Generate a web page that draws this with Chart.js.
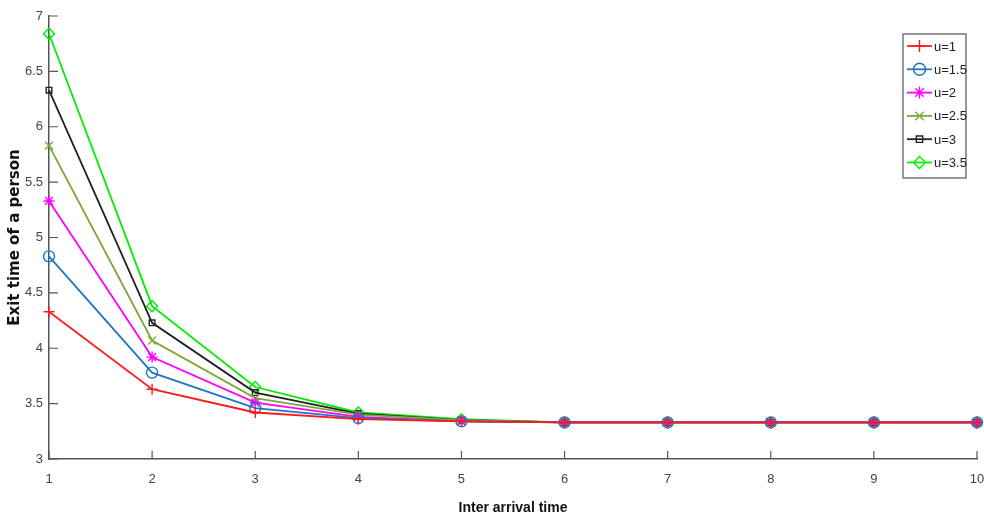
<!DOCTYPE html>
<html><head><meta charset="utf-8">
<script src="https://cdn.jsdelivr.net/npm/chart.js@4.4.1/dist/chart.umd.min.js"></script>
<style>html,body{margin:0;padding:0;background:#fff}#wrap{width:984px;height:521px}</style>
</head><body><div id="wrap"><canvas id="c" width="984" height="521"></canvas></div>
<script>
const interArrival = [1,2,3,4,5,6,7,8,9,10];
const u1   = [4.33,3.63,3.42,3.36,3.34,3.33,3.33,3.33,3.33,3.33];
const u15  = [4.83,3.78,3.46,3.37,3.34,3.33,3.33,3.33,3.33,3.33];
const u2   = [5.33,3.92,3.51,3.38,3.34,3.33,3.33,3.33,3.33,3.33];
const u25  = [5.83,4.07,3.55,3.40,3.35,3.33,3.33,3.33,3.33,3.33];
const u3   = [6.33,4.23,3.60,3.41,3.35,3.33,3.33,3.33,3.33,3.33];
const u35  = [6.84,4.38,3.65,3.42,3.36,3.33,3.33,3.33,3.33,3.33];
const seriesNames = ['u=1','u=1.5','u=2','u=2.5','u=3','u=3.5'];
const seriesData = [u1,u15,u2,u25,u3,u35];
const colors = ['#ff1a1a','#1f77c4','#ff00ff','#7aa83a','#222222','#00ee00'];
const markers = ['cross','circle','star','crossRot','rect','rectRot'];
const FONT = '"Liberation Sans Narrow","Liberation Sans",Arial,sans-serif';

const datasets = seriesNames.map((n,i)=>({
  label:n,
  data: interArrival.map((x,j)=>({x:x,y:seriesData[i][j]})),
  borderColor:colors[i], backgroundColor:'rgba(0,0,0,0)',
  borderWidth:1.8, pointStyle:markers[i], pointRadius: markers[i]==='rect'?4:5.5,
  pointBorderColor:colors[i], pointBackgroundColor:'rgba(0,0,0,0)', pointBorderWidth:1.4,
  tension:0, clip:false
}));

const inwardTicks = {
  id:'inwardTicks',
  afterDraw(chart){
    const ctx=chart.ctx, a=chart.chartArea, xs=chart.scales.x, ys=chart.scales.y;
    ctx.save(); ctx.strokeStyle='#555'; ctx.lineWidth=1.2;
    ctx.beginPath();
    xs.ticks.forEach(t=>{const p=xs.getPixelForValue(t.value); ctx.moveTo(p,a.bottom); ctx.lineTo(p,a.bottom-8);});
    ys.ticks.forEach(t=>{const p=ys.getPixelForValue(t.value); ctx.moveTo(a.left,p); ctx.lineTo(a.left+9,p);});
    ctx.stroke(); ctx.restore();
  }
};

const boxLegend = {
  id:'boxLegend',
  afterDraw(chart){
    const ctx=chart.ctx, a=chart.chartArea;
    const w=63, h=144, x0=a.right-74, y0=a.top+18;
    ctx.save();
    ctx.fillStyle='#fff'; ctx.fillRect(x0,y0,w,h);
    ctx.strokeStyle='#777'; ctx.lineWidth=1.5; ctx.strokeRect(x0,y0,w,h);
    ctx.font='13px '+FONT; ctx.textBaseline='middle';
    chart.data.datasets.forEach((ds,i)=>{
      const y=y0+12+i*23.3;
      ctx.strokeStyle=ds.borderColor; ctx.lineWidth=1.8;
      ctx.beginPath(); ctx.moveTo(x0+4,y); ctx.lineTo(x0+29,y); ctx.stroke();
      ctx.strokeStyle=ds.borderColor; ctx.fillStyle='rgba(0,0,0,0)'; ctx.lineWidth=1.4;
      Chart.helpers.drawPoint(ctx,{pointStyle:ds.pointStyle,radius:ds.pointRadius+0.5,borderWidth:1.4,rotation:0},x0+16.5,y);
      ctx.fillStyle='#222'; ctx.fillText(ds.label,x0+31,y+1);
    });
    ctx.restore();
  }
};

new Chart(document.getElementById('c'),{
  type:'line',
  data:{datasets},
  options:{
    responsive:false, animation:false,
    layout:{padding:{top:16,right:7,left:0,bottom:0}},
    plugins:{legend:{display:false},tooltip:{enabled:false}},
    scales:{
      x:{type:'linear',min:1,max:10,
        afterFit(s){s.height=62; s.paddingLeft=0; s.paddingRight=0;},
        grid:{display:false,drawTicks:false},
        border:{display:true,color:'#555',width:1.5},
        ticks:{stepSize:1,padding:13,color:'#444',font:{family:FONT,size:13},callback:v=>String(v)},
        title:{display:true,text:'Inter arrival time',color:'#111',font:{family:FONT,size:14,weight:'bold'},padding:{top:6}}
      },
      y:{min:3,max:7,
        afterFit(s){s.width=49;},
        grid:{display:false,drawTicks:false},
        border:{display:true,color:'#555',width:1.5},
        ticks:{stepSize:0.5,padding:6,color:'#444',font:{family:FONT,size:13},callback:v=>String(Math.round(v*10)/10)},
        title:{display:true,text:'Exit time of a person',color:'#111',font:{family:'"DejaVu Sans",Arial,sans-serif',size:15,weight:'bold'},padding:{top:6,bottom:0}}
      }
    }
  },
  plugins:[inwardTicks,boxLegend]
});
</script></body></html>
